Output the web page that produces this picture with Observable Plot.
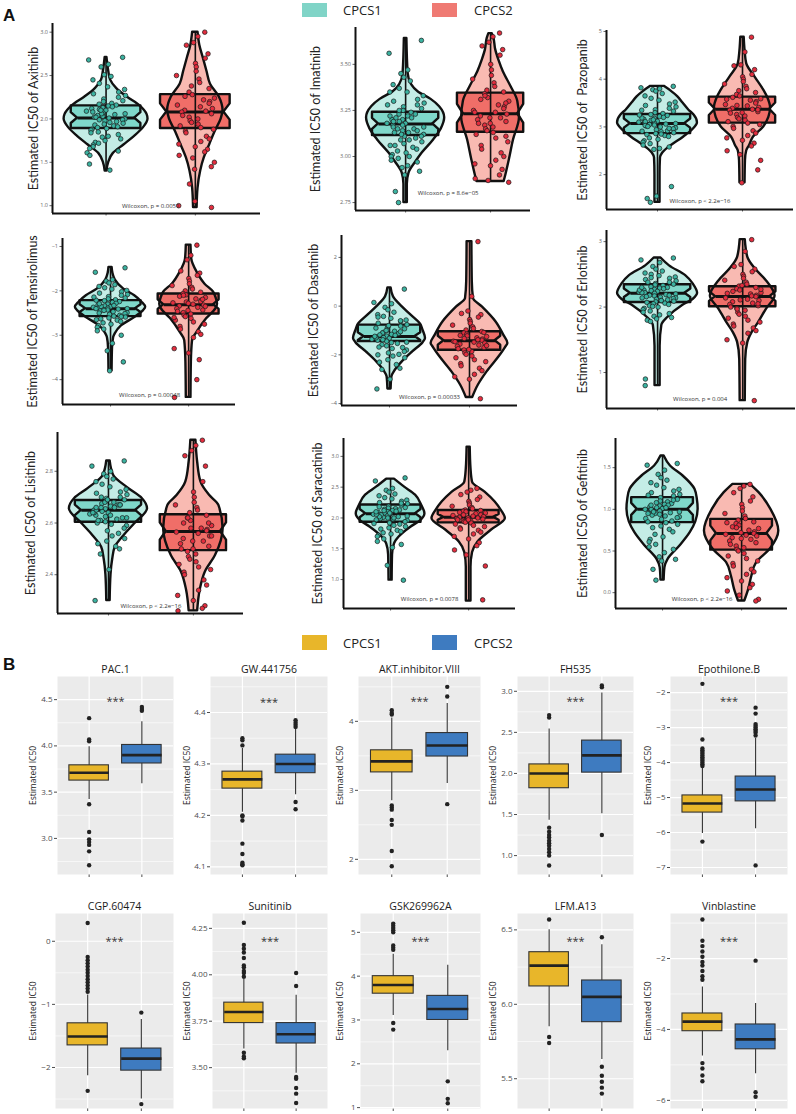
<!DOCTYPE html>
<html><head><meta charset="utf-8">
<script src="https://cdn.jsdelivr.net/npm/d3@7"></script>
<script src="https://cdn.jsdelivr.net/npm/@observablehq/plot@0.6"></script>
<style>
body{margin:0;background:#fff;}
#page{position:relative;width:796px;height:1114px;overflow:hidden;background:#fff;font-family:"Open Sans",Lato,sans-serif;}
.abs{position:absolute;}
.abs svg{overflow:visible;max-width:none;}
</style></head><body><div id="page"></div>
<script>
// ================= DATA =================
const groups = ["CPCS1", "CPCS2"];

// ---- Panel A ----
const drugsA = ["Axitinib","Imatinib","Pazopanib","Temsirolimus","Dasatinib","Erlotinib","Lisitinib","Saracatinib","Gefitinib"];
const yTitlesA = ["Estimated IC50 of Axitinib","Estimated IC50 of Imatinib","Estimated IC50 of  Pazopanib","Estimated IC50 of Temsirolimus","Estimated IC50 of Dasatinib","Estimated IC50 of Erlotinib","Estimated IC50 of Lisitinib","Estimated IC50 of Saracatinib","Estimated IC50 of Gefitinib"];
const pLabelsA = ["Wilcoxon, p = 0.0051","Wilcoxon, p = 8.6e\u221205","Wilcoxon, p < 2.2e\u221216","Wilcoxon, p = 0.00048","Wilcoxon, p = 0.00033","Wilcoxon, p = 0.004","Wilcoxon, p < 2.2e\u221216","Wilcoxon, p = 0.0078","Wilcoxon, p < 2.2e\u221216"];
const pLabelYA = [1.0, 2.80, 1.44, -4.34, -3.75, 0.6, 2.28, 0.69, -0.08];
const yTicksA = [[1.0,1.5,2.0,2.5,3.0],[2.75,3.0,3.25,3.5],[2,3,4,5],[-4,-3,-2,-1],[-4,-2,0,2],[1,2,3],[2.4,2.6,2.8],[1.0,1.5,2.0,2.5,3.0],[0.0,0.5,1.0,1.5]];
const yFormatA = [".1f",".2f","d","d","d","d",".1f",".1f",".1f"];

// box: [q1, median, q3]
const boxA1 = [[1.89,2.01,2.15],[3.114,3.177,3.24],[2.86,3.07,3.26],[-2.58,-2.40,-2.22],[-1.45,-1.25,-0.78],[2.07,2.21,2.34],[2.603,2.649,2.687],[1.93,2.07,2.21],[0.84,1.0,1.14]];
const boxA2 = [[1.89,2.08,2.28],[3.132,3.232,3.344],[3.08,3.37,3.625],[-2.52,-2.31,-2.07],[-1.81,-1.42,-1.05],[2.005,2.16,2.31],[2.493,2.567,2.632],[1.92,2.01,2.12],[0.51,0.71,0.88]];

// violin profile: [value, half-width (fraction of group spacing)]
const violinA1 = [
 [[1.40,0.01],[1.50,0.03],[1.60,0.08],[1.70,0.2],[1.80,0.32],[1.90,0.42],[2.00,0.47],[2.05,0.46],[2.15,0.38],[2.25,0.24],[2.35,0.12],[2.45,0.05],[2.55,0.03],[2.71,0.01]],
 [[2.75,0.02],[2.85,0.02],[2.91,0.04],[2.97,0.12],[3.01,0.18],[3.09,0.33],[3.15,0.42],[3.21,0.46],[3.27,0.4],[3.31,0.3],[3.35,0.15],[3.39,0.07],[3.45,0.03],[3.64,0.015]],
 [[1.42,0.03],[2.0,0.03],[2.35,0.035],[2.45,0.06],[2.58,0.14],[2.79,0.31],[2.95,0.42],[3.09,0.47],[3.25,0.43],[3.35,0.37],[3.5,0.3],[3.63,0.24],[3.75,0.16],[3.85,0.08]],
 [[-3.8,0.02],[-3.3,0.025],[-3.05,0.04],[-2.97,0.06],[-2.79,0.14],[-2.6,0.31],[-2.45,0.42],[-2.37,0.45],[-2.25,0.4],[-2.11,0.31],[-1.96,0.17],[-1.75,0.06],[-1.6,0.03],[-1.47,0.02]],
 [[-3.4,0.02],[-2.9,0.03],[-2.7,0.06],[-2.29,0.16],[-1.88,0.29],[-1.5,0.42],[-1.33,0.45],[-1.0,0.42],[-0.75,0.39],[-0.37,0.27],[-0.03,0.16],[0.38,0.05],[0.75,0.02]],
 [[0.8,0.03],[1.4,0.03],[1.72,0.05],[1.84,0.12],[2.02,0.29],[2.12,0.42],[2.21,0.47],[2.35,0.42],[2.48,0.33],[2.63,0.14],[2.75,0.04]],
 [[2.30,0.02],[2.4,0.03],[2.46,0.05],[2.506,0.08],[2.55,0.18],[2.597,0.31],[2.655,0.46],[2.694,0.4],[2.733,0.24],[2.785,0.06],[2.84,0.02]],
 [[0.99,0.02],[1.4,0.025],[1.58,0.05],[1.69,0.11],[1.85,0.26],[1.95,0.38],[2.07,0.44],[2.2,0.4],[2.37,0.32],[2.5,0.18],[2.63,0.05]],
 [[0.15,0.02],[0.3,0.03],[0.4,0.07],[0.56,0.22],[0.72,0.35],[0.85,0.42],[1.0,0.45],[1.12,0.44],[1.24,0.41],[1.4,0.26],[1.52,0.1],[1.64,0.02]]
];
const violinA2 = [
 [[0.98,0.02],[1.2,0.03],[1.4,0.06],[1.55,0.1],[1.7,0.16],[1.85,0.22],[2.0,0.29],[2.1,0.31],[2.25,0.27],[2.4,0.17],[2.55,0.13],[2.7,0.09],[2.85,0.05],[3.0,0.03]],
 [[2.864,0.16],[2.9,0.18],[2.98,0.22],[3.09,0.27],[3.21,0.34],[3.3,0.32],[3.38,0.24],[3.46,0.15],[3.52,0.1],[3.58,0.06],[3.64,0.04],[3.667,0.02]],
 [[1.83,0.03],[2.3,0.035],[2.5,0.05],[2.6,0.08],[2.79,0.13],[3.0,0.25],[3.2,0.31],[3.4,0.33],[3.6,0.3],[3.77,0.25],[4.04,0.15],[4.32,0.05],[4.6,0.03],[4.88,0.02]],
 [[-4.4,0.03],[-3.6,0.035],[-3.12,0.05],[-2.93,0.11],[-2.63,0.23],[-2.4,0.35],[-2.3,0.37],[-2.15,0.35],[-2.03,0.32],[-1.85,0.21],[-1.585,0.11],[-1.285,0.04],[-0.97,0.03]],
 [[-3.75,0.04],[-3.25,0.11],[-2.7,0.22],[-2.08,0.37],[-1.7,0.45],[-1.53,0.48],[-1.2,0.43],[-0.64,0.33],[-0.03,0.16],[0.31,0.05],[1.0,0.035],[2.65,0.03]],
 [[0.57,0.03],[1.2,0.035],[1.46,0.06],[1.61,0.11],[1.77,0.19],[1.97,0.28],[2.17,0.38],[2.4,0.28],[2.58,0.15],[2.76,0.06],[3.03,0.03]],
 [[2.26,0.05],[2.34,0.08],[2.41,0.14],[2.474,0.26],[2.577,0.35],[2.668,0.3],[2.707,0.19],[2.758,0.09],[2.836,0.05],[2.92,0.03]],
 [[0.65,0.03],[1.2,0.03],[1.44,0.05],[1.61,0.12],[1.8,0.29],[1.99,0.47],[2.12,0.42],[2.26,0.34],[2.42,0.21],[2.58,0.05],[2.8,0.03],[3.15,0.02]],
 [[-0.1,0.04],[0.04,0.09],[0.2,0.13],[0.36,0.19],[0.52,0.36],[0.74,0.47],[1.0,0.37],[1.2,0.22],[1.3,0.11]]
];

// individual points
const pointsA1 = [
 [2.71,2.68,2.63,2.60,2.51,2.49,2.45,2.41,2.37,2.34,2.31,2.29,2.27,2.25,2.23,2.21,2.20,2.18,2.17,2.16,2.15,2.14,2.13,2.12,2.11,2.10,2.09,2.08,2.07,2.06,2.05,2.04,2.03,2.02,2.01,2.00,1.99,1.98,1.97,1.96,1.95,1.94,1.93,1.92,1.91,1.90,1.89,1.88,1.87,1.85,1.84,1.82,1.80,1.79,1.77,1.75,1.73,1.72,1.70,1.68,1.66,1.63,1.61,1.58,1.48,1.41,2.02,2.06,1.99,2.10],
 [3.63,3.56,3.47,3.45,3.43,3.41,3.39,3.37,3.35,3.33,3.31,3.30,3.29,3.28,3.27,3.26,3.25,3.24,3.23,3.23,3.22,3.21,3.20,3.20,3.19,3.18,3.18,3.17,3.17,3.16,3.15,3.15,3.14,3.13,3.13,3.12,3.11,3.11,3.10,3.09,3.08,3.07,3.06,3.05,3.04,3.03,3.02,3.01,3.00,2.99,2.98,2.97,2.95,2.94,2.92,2.90,2.81,2.75,3.19,3.16,3.22,3.14,3.28,3.06,3.35,3.00,3.21,3.12,3.25,3.09],
 [3.85,3.82,3.80,3.78,3.75,3.70,3.65,3.60,3.56,3.52,3.48,3.45,3.42,3.39,3.36,3.33,3.30,3.28,3.26,3.24,3.22,3.20,3.18,3.16,3.14,3.12,3.10,3.09,3.08,3.07,3.06,3.05,3.04,3.02,3.00,2.98,2.96,2.94,2.92,2.90,2.88,2.86,2.84,2.82,2.80,2.77,2.74,2.71,2.68,2.65,2.62,2.58,2.55,2.53,1.75,1.55,1.50,1.42,3.11,3.03,3.19,2.97,3.25,2.91,3.35,2.85,3.01,3.15],
 [-1.48,-1.58,-1.75,-1.78,-1.82,-1.86,-1.90,-1.93,-1.96,-1.99,-2.02,-2.05,-2.08,-2.10,-2.13,-2.16,-2.18,-2.20,-2.22,-2.24,-2.26,-2.28,-2.30,-2.32,-2.34,-2.36,-2.37,-2.38,-2.39,-2.40,-2.41,-2.42,-2.43,-2.45,-2.47,-2.49,-2.51,-2.53,-2.55,-2.57,-2.59,-2.61,-2.63,-2.66,-2.69,-2.72,-2.75,-2.78,-2.82,-2.86,-2.90,-3.00,-3.18,-3.35,-3.60,-3.80,-2.35,-2.44,-2.29,-2.50,-2.21,-2.58,-2.14,-2.65,-2.40,-2.33],
 [0.70,0.15,0.10,-0.05,-0.15,-0.25,-0.35,-0.42,-0.50,-0.57,-0.63,-0.70,-0.76,-0.82,-0.88,-0.93,-0.98,-1.03,-1.08,-1.12,-1.16,-1.20,-1.23,-1.26,-1.29,-1.32,-1.36,-1.40,-1.44,-1.48,-1.53,-1.58,-1.63,-1.68,-1.74,-1.80,-1.86,-1.92,-1.98,-2.05,-2.12,-2.20,-2.30,-2.40,-2.55,-2.60,-3.00,-3.40,-0.90,-1.10,-1.30,-0.60,-1.50,-1.00,-1.70,-0.80,-1.18,-1.38,-0.45,-2.00,-1.24,-1.05],
 [2.75,2.72,2.68,2.62,2.58,2.55,2.52,2.50,2.48,2.46,2.44,2.42,2.40,2.38,2.36,2.35,2.34,2.33,2.31,2.30,2.29,2.28,2.27,2.26,2.25,2.24,2.23,2.22,2.21,2.20,2.19,2.18,2.17,2.16,2.15,2.14,2.13,2.12,2.11,2.10,2.09,2.08,2.07,2.06,2.04,2.02,2.00,1.98,1.96,1.94,1.92,1.90,1.88,1.86,1.84,1.82,1.80,1.78,0.90,0.80,2.22,2.18,2.26,2.14,2.30,2.10,2.38,2.05,2.45,2.01],
 [2.84,2.82,2.80,2.79,2.78,2.77,2.76,2.75,2.74,2.73,2.72,2.715,2.71,2.70,2.695,2.69,2.685,2.68,2.675,2.67,2.665,2.66,2.655,2.65,2.645,2.64,2.635,2.63,2.625,2.62,2.615,2.61,2.605,2.60,2.595,2.59,2.58,2.57,2.56,2.55,2.54,2.53,2.52,2.51,2.50,2.48,2.42,2.30,2.65,2.66,2.64,2.67,2.63,2.68,2.62,2.69,2.61,2.70,2.65,2.66,2.64,2.67],
 [2.65,2.60,2.48,2.45,2.42,2.39,2.36,2.33,2.31,2.29,2.27,2.25,2.23,2.21,2.19,2.17,2.16,2.15,2.14,2.13,2.12,2.11,2.10,2.09,2.08,2.07,2.06,2.05,2.04,2.03,2.02,2.01,2.00,1.99,1.98,1.96,1.94,1.92,1.90,1.88,1.86,1.84,1.82,1.80,1.78,1.76,1.74,1.72,1.70,1.66,1.62,1.57,1.52,1.23,0.99,2.08,2.05,2.12,2.02,2.18,1.97,2.24,1.91,2.06,2.10,2.00],
 [1.55,1.53,1.47,1.42,1.38,1.35,1.32,1.29,1.26,1.24,1.22,1.20,1.18,1.16,1.14,1.12,1.10,1.09,1.08,1.07,1.06,1.05,1.04,1.03,1.02,1.01,1.00,0.99,0.98,0.97,0.96,0.95,0.94,0.93,0.92,0.91,0.90,0.88,0.86,0.84,0.82,0.80,0.78,0.76,0.73,0.70,0.67,0.64,0.61,0.58,0.55,0.52,0.48,0.43,0.40,0.38,0.28,0.15,1.00,1.05,0.95,1.11,0.89,1.17,0.85,1.02,0.97]
];
const pointsA2 = [
 [3.00,2.95,2.88,2.85,2.75,2.70,2.64,2.60,2.55,2.50,2.46,2.42,2.38,2.35,2.31,2.28,2.26,2.24,2.22,2.20,2.18,2.16,2.14,2.12,2.10,2.09,2.08,2.06,2.04,2.02,2.00,1.98,1.96,1.94,1.92,1.90,1.88,1.86,1.84,1.80,1.77,1.74,1.71,1.68,1.65,1.62,1.58,1.55,1.50,1.45,1.42,1.25,1.05,1.00,0.98],
 [3.67,3.65,3.62,3.60,3.58,3.55,3.50,3.47,3.44,3.42,3.40,3.38,3.36,3.35,3.34,3.32,3.31,3.30,3.28,3.27,3.26,3.25,3.24,3.23,3.22,3.21,3.20,3.19,3.18,3.17,3.16,3.15,3.14,3.13,3.12,3.10,3.08,3.06,3.04,3.02,3.00,2.98,2.96,2.95,2.93,2.90,2.88,2.87,2.86,3.29,3.21,3.33,3.18,3.24,3.11],
 [4.88,4.57,4.30,4.28,4.20,4.10,4.05,4.00,3.95,3.90,3.85,3.80,3.76,3.72,3.68,3.65,3.62,3.59,3.56,3.53,3.50,3.47,3.44,3.41,3.39,3.37,3.35,3.32,3.29,3.26,3.23,3.20,3.17,3.14,3.11,3.08,3.05,3.01,2.97,2.92,2.87,2.82,2.77,2.72,2.66,2.60,2.50,2.42,2.30,2.10,1.83,3.45,3.30,3.58,3.36],
 [-0.97,-1.20,-1.30,-1.55,-1.60,-1.65,-1.72,-1.78,-1.84,-1.88,-1.92,-1.96,-2.00,-2.03,-2.06,-2.09,-2.12,-2.15,-2.18,-2.21,-2.24,-2.27,-2.30,-2.32,-2.34,-2.37,-2.40,-2.43,-2.46,-2.49,-2.52,-2.55,-2.58,-2.62,-2.66,-2.70,-2.75,-2.80,-2.86,-2.92,-2.98,-3.05,-3.30,-3.40,-3.55,-4.00,-4.40,-2.25,-2.35,-2.19,-2.44,-2.10,-2.28,-2.60],
 [2.65,0.40,-0.20,-0.30,-0.35,-0.45,-0.55,-0.63,-0.70,-0.78,-0.85,-0.92,-0.98,-1.04,-1.10,-1.15,-1.20,-1.25,-1.30,-1.35,-1.40,-1.44,-1.48,-1.52,-1.56,-1.60,-1.65,-1.70,-1.75,-1.80,-1.86,-1.92,-1.98,-2.05,-2.12,-2.20,-2.28,-2.36,-2.45,-2.55,-2.65,-2.80,-2.90,-3.00,-3.80,-1.38,-1.46,-1.22,-1.62,-1.08,-1.78,-1.33],
 [3.03,2.85,2.65,2.62,2.58,2.54,2.50,2.47,2.44,2.41,2.38,2.35,2.32,2.30,2.28,2.26,2.24,2.22,2.20,2.18,2.16,2.14,2.12,2.10,2.08,2.06,2.04,2.02,2.00,1.98,1.95,1.92,1.89,1.86,1.83,1.80,1.77,1.74,1.71,1.68,1.64,1.60,1.50,1.45,0.57,2.17,2.21,2.11,2.27,2.05,2.33,1.97],
 [2.92,2.90,2.88,2.86,2.82,2.76,2.72,2.70,2.68,2.67,2.66,2.65,2.64,2.63,2.62,2.61,2.60,2.59,2.58,2.575,2.57,2.565,2.56,2.55,2.54,2.53,2.52,2.51,2.50,2.49,2.48,2.47,2.46,2.45,2.44,2.43,2.42,2.41,2.40,2.38,2.36,2.34,2.32,2.30,2.28,2.27,2.26,2.58,2.55,2.60,2.53,2.62,2.50],
 [2.48,2.45,2.42,2.38,2.34,2.30,2.27,2.24,2.21,2.19,2.17,2.15,2.13,2.12,2.11,2.10,2.09,2.08,2.07,2.06,2.05,2.04,2.03,2.02,2.01,2.00,1.99,1.98,1.97,1.96,1.95,1.94,1.93,1.92,1.90,1.88,1.86,1.84,1.82,1.80,1.77,1.74,1.70,1.66,1.60,1.55,1.48,1.40,1.22,0.67,2.00,2.05,1.97],
 [1.30,1.28,1.25,1.20,1.15,1.10,1.06,1.02,0.98,0.95,0.92,0.89,0.87,0.85,0.83,0.81,0.79,0.77,0.75,0.73,0.71,0.70,0.69,0.68,0.66,0.64,0.62,0.60,0.58,0.56,0.54,0.52,0.50,0.47,0.44,0.41,0.38,0.35,0.32,0.28,0.25,0.22,0.18,0.14,0.10,0.06,0.02,-0.03,-0.08,-0.10,0.72,0.78,0.65,0.84]
];

// ---- Panel B ----
const drugsB = ["PAC.1","GW.441756","AKT.inhibitor.VIII","FH535","Epothilone.B","CGP.60474","Sunitinib","GSK269962A","LFM.A13","Vinblastine"];
const yTicksB = [[3.0,3.5,4.0,4.5],[4.1,4.2,4.3,4.4],[2,3,4],[1.0,1.5,2.0,2.5,3.0],[-7,-6,-5,-4,-3,-2],[-2,-1,0],[3.50,3.75,4.00,4.25],[1,2,3,4,5],[5.5,6.0,6.5],[-6,-4,-2]];
const yFormatB = [".1f",".1f","d",".1f","d","d",".2f","d",".1f","d"];
// stats: [lower whisker, q1, median, q3, upper whisker]
const statsB1 = [[3.42,3.625,3.71,3.79,3.99],[4.206,4.252,4.27,4.285,4.33],[2.85,3.26,3.42,3.58,4.05],[1.43,1.82,2.0,2.11,2.54],[-6.03,-5.43,-5.17,-4.94,-4.15],[-2.13,-1.65,-1.51,-1.30,-0.85],[3.60,3.74,3.80,3.85,3.98],[3.1,3.6,3.8,4.0,4.5],[5.85,6.12,6.26,6.35,6.5],[-4.75,-4.05,-3.78,-3.55,-2.8]];
const statsB2 = [[3.59,3.81,3.90,4.01,4.26],[4.24,4.282,4.30,4.318,4.37],[3.10,3.49,3.65,3.83,4.26],[1.51,2.01,2.22,2.40,2.98],[-5.89,-5.11,-4.77,-4.40,-3.31],[-2.50,-2.05,-1.86,-1.70,-1.24],[3.47,3.63,3.68,3.74,3.89],[2.3,3.0,3.25,3.55,4.25],[5.63,5.88,6.05,6.16,6.4],[-5.25,-4.56,-4.28,-3.86,-3.27]];
const outliersB1 = [[4.05,4.07,4.30,3.37,3.07,2.99,2.96,2.93,2.86,2.71],[4.336,4.346,4.35,4.20,4.198,4.19,4.145,4.125,4.108,4.105,4.103],[4.10,4.12,4.16,2.78,2.75,2.72,2.57,2.50,2.12,1.90],[2.68,2.71,1.34,1.29,1.25,1.22,1.18,1.15,1.12,1.08,1.04,1.00,0.88],[-1.75,-3.34,-3.6,-3.65,-3.7,-3.75,-3.8,-3.85,-3.9,-3.95,-4.0,-4.05,-4.1,-6.26],[0.29,-0.25,-0.3,-0.35,-0.4,-0.45,-0.5,-0.55,-0.6,-0.65,-0.7,-0.75,-0.8,-2.37],[3.99,4.01,4.02,4.04,4.05,4.09,4.12,4.14,4.16,4.28,3.58,3.55,3.56],[4.6,4.65,4.7,5.0,5.05,5.1,5.15,5.2,2.93,2.78],[6.57,5.78,5.74],[-0.9,-1.5,-1.65,-1.8,-1.95,-2.1,-2.2,-2.35,-2.5,-2.6,-4.95,-5.1,-5.3,-5.46]];
const outliersB2 = [[4.38,4.40,4.42],[4.372,4.376,4.38,4.385,4.226,4.212],[4.36,4.50,2.80],[3.05,3.07,1.25],[-2.43,-2.6,-2.9,-2.95,-3.0,-3.05,-3.1,-3.15,-3.23,-6.94],[-1.13,-2.58],[3.94,4.01,3.45,3.44,3.39,3.36,3.31],[1.6,1.2,1.1],[6.45,5.58,5.52,5.48,5.44,5.40],[-2.06,-5.77,-5.9]];
const starYB = [4.48,4.42,4.29,2.88,-2.26,0.0,4.18,4.8,6.42,-1.52];

// ================= STYLE / LAYOUT =================
const violinFill = ["#c4ede6","#f9bab2"];
const boxFillA = ["#7fd8ca","#f06e68"];
const pointFill = ["#3bb3a1","#e32d3e"];
const legendA = ["#80d4c7","#ef7a73"];
const colorsB = ["#e8b62a","#3e7bc0"];

const frameA = [
 {L:52,T:23,R:260,B:213,y:[0.91,3.10],x:[0.4,2.73],tdx:-19},
 {L:355,T:27,R:530,B:210,y:[2.707,3.70],x:[0.41,2.47],tdx:-40},
 {L:606,T:30,R:793,B:209,y:[1.27,5.02],x:[0.4,2.6],tdx:-24},
 {L:62,T:238,R:235,B:404,y:[-4.56,-0.82],x:[0.385,2.6],tdx:-30},
 {L:341,T:235,R:517,B:405,y:[-4.08,2.9],x:[0.4,2.6],tdx:-28},
 {L:606,T:230,R:795,B:408,y:[0.45,3.17],x:[0.4,2.62],tdx:-24},
 {L:57,T:432,R:243,B:613,y:[2.25,2.95],x:[0.4,2.59],tdx:-27},
 {L:343,T:438,R:515,B:608,y:[0.53,3.29],x:[0.397,2.6],tdx:-26},
 {L:615,T:438,R:787,B:608,y:[-0.19,1.85],x:[0.405,2.58],tdx:-33}
];
const frameB = [
 {L:57,R:173,T:676,B:874,y:[2.61,4.75],tdx:-24},
 {L:210,R:327,T:676,B:874,y:[4.085,4.47],tdx:-23},
 {L:358,R:480,T:676,B:874,y:[1.78,4.65],tdx:-18},
 {L:517,R:633,T:676,B:874,y:[0.77,3.18],tdx:-24},
 {L:670,R:787,T:676,B:874,y:[-7.2,-1.54],tdx:-22},
 {L:55,R:173,T:913,B:1108,y:[-2.65,0.44],tdx:-22},
 {L:212,R:327,T:913,B:1108,y:[3.28,4.33],tdx:-25},
 {L:360,R:480,T:913,B:1108,y:[0.98,5.43],tdx:-20},
 {L:517,R:633,T:913,B:1108,y:[5.30,6.61],tdx:-24},
 {L:670,R:787,T:913,B:1108,y:[-6.23,-0.73],tdx:-22}
];

const page = document.getElementById("page");
function place(el, left, top) {
  const d = document.createElement("div");
  d.className = "abs"; d.style.left = left + "px"; d.style.top = top + "px";
  d.appendChild(el); page.appendChild(d); return d;
}
function htmlText(txt, left, top, css) {
  const d = document.createElement("div");
  d.className = "abs"; d.textContent = txt;
  d.style.left = left + "px"; d.style.top = top + "px";
  Object.assign(d.style, css || {});
  page.appendChild(d); return d;
}
function jit(i, g) { const s = Math.sin((i + 1) * 12.9898 + g * 78.233) * 43758.5453; return (s - Math.floor(s)) - 0.5; }

// ---- Panel A plots ----
function drawA(i) {
  const f = frameA[i];
  const mL = 50, mT = 4, mR = 4, mB = 10;
  const W = f.R - f.L + mL + mR, H = f.B - f.T + mT + mB;
  const prof = [violinA1[i], violinA2[i]], box = [boxA1[i], boxA2[i]], pts = [pointsA1[i], pointsA2[i]];
  const marks = [];
  for (let g = 0; g < 2; g++) {
    const c = g + 1;
    const v = prof[g].map(([y, w]) => ({y, x1: c - w, x2: c + w}));
    marks.push(Plot.areaX(v, {y: "y", x1: "x1", x2: "x2", curve: "monotone-y", fill: violinFill[g]}));
  }
  for (let g = 0; g < 2; g++) {
    const c = g + 1, [q1, med, q3] = box[g];
    const n = 0.24 * (q3 - q1), hw = 0.39, nw = 0.82 * hw;
    const bp = [[q1, hw], [med - n, hw], [med, nw], [med + n, hw], [q3, hw]].map(([y, w]) => ({y, x1: c - w, x2: c + w}));
    marks.push(Plot.areaX(bp, {y: "y", x1: "x1", x2: "x2", fill: boxFillA[g], stroke: "#111", strokeWidth: 2.4, strokeLinejoin: "round"}));
  }
  for (let g = 0; g < 2; g++) {
    const c = g + 1;
    const v = prof[g].map(([y, w]) => ({y, x1: c - w, x2: c + w}));
    marks.push(Plot.areaX(v, {y: "y", x1: "x1", x2: "x2", curve: "monotone-y", fill: "none", stroke: "#111", strokeWidth: 2.4, strokeLinejoin: "round"}));
    const ys = prof[g].map(d => d[0]);
    marks.push(Plot.ruleX([c], {y1: d3.min(ys), y2: d3.max(ys), stroke: "#111", strokeWidth: 1.6}));
  }
  for (let g = 0; g < 2; g++) {
    const c = g + 1, med = box[g][1], nw = 0.82 * 0.39;
    marks.push(Plot.link([0], {x1: c - nw, x2: c + nw, y1: med, y2: med, stroke: "#111", strokeWidth: 3}));
  }
  for (let g = 0; g < 2; g++) {
    const c = g + 1;
    const data = pts[g].map((y, k) => ({y, x: c + jit(k, g) * 0.44}));
    marks.push(Plot.dot(data, {x: "x", y: "y", r: 2.3, fill: pointFill[g], stroke: "#1a1a1a", strokeWidth: 0.7}));
  }
  marks.push(Plot.ruleX([f.x[0]], {stroke: "#111", strokeWidth: 2}));
  marks.push(Plot.ruleY([f.y[0]], {stroke: "#111", strokeWidth: 2}));
  marks.push(Plot.text([pLabelsA[i]], {x: 1.5, y: pLabelYA[i], fontSize: 6, fill: "#333"}));
  marks.push(Plot.text([yTitlesA[i]], {frameAnchor: "left", textAnchor: "middle", rotate: -90, dx: f.tdx, fontSize: 12.5, fill: "#222", fontFamily: "Lato"}));
  const svg = Plot.plot({
    width: W, height: H, marginLeft: mL, marginTop: mT, marginRight: mR, marginBottom: mB,
    x: {domain: f.x, ticks: [1, 2], tickFormat: () => "", tickSize: 2.5, label: null},
    y: {domain: f.y, ticks: yTicksA[i], tickFormat: d3.format(yFormatA[i]), tickSize: 2.5, tickPadding: 2, label: null},
    style: {fontSize: "5.5px", color: "#666", background: "transparent", overflow: "visible", fontFamily: "Open Sans"},
    marks
  });
  place(svg, f.L - mL, f.T - mT);
}

// ---- Panel B plots ----
function drawB(i) {
  const f = frameB[i];
  const mL = 52, mT = 20, mR = 4, mB = 8;
  const W = f.R - f.L + mL + mR, H = f.B - f.T + mT + mB;
  const ticks = yTicksB[i];
  const step = ticks[1] - ticks[0];
  const minor = [];
  for (let k = -1; k < ticks.length; k++) {
    const m = ticks[0] + (k + 0.5) * step;
    if (m > f.y[0] && m < f.y[1]) minor.push(m);
  }
  const stats = [statsB1[i], statsB2[i]], outs = [outliersB1[i], outliersB2[i]];
  const marks = [
    Plot.frame({fill: "#ebebeb", stroke: null}),
    Plot.ruleY(minor, {stroke: "#fff", strokeWidth: 0.6}),
    Plot.ruleY(ticks, {stroke: "#fff", strokeWidth: 1.2}),
    Plot.ruleX([1, 2], {stroke: "#fff", strokeWidth: 1.2})
  ];
  for (let g = 0; g < 2; g++) {
    const c = g + 1, [lo, q1, med, q3, hi] = stats[g];
    marks.push(Plot.ruleX([c], {y1: lo, y2: hi, stroke: "#333", strokeWidth: 1.1}));
    marks.push(Plot.rect([0], {x1: c - 0.375, x2: c + 0.375, y1: q1, y2: q3, fill: colorsB[g], stroke: "#333", strokeWidth: 1.1}));
    marks.push(Plot.link([0], {x1: c - 0.375, x2: c + 0.375, y1: med, y2: med, stroke: "#222", strokeWidth: 2.6}));
    marks.push(Plot.dot(outs[g], {x: c, y: d => d, r: 2.2, fill: "#222", stroke: null}));
  }
  marks.push(Plot.text(["***"], {x: 1.5, y: starYB[i], fontSize: 11, fill: "#333"}));
  marks.push(Plot.text([drugsB[i]], {frameAnchor: "top", dy: -11, fontSize: 10.5, fill: "#1a1a1a"}));
  marks.push(Plot.text(["Estimated IC50"], {frameAnchor: "left", textAnchor: "middle", rotate: -90, dx: f.tdx, fontSize: 8.5, fill: "#1a1a1a"}));
  const svg = Plot.plot({
    width: W, height: H, marginLeft: mL, marginTop: mT, marginRight: mR, marginBottom: mB,
    x: {domain: [0.4, 2.6], ticks: [1, 2], tickFormat: () => "", tickSize: 3, label: null},
    y: {domain: f.y, ticks, tickFormat: d3.format(yFormatB[i]), tickSize: 3, tickPadding: 2, label: null},
    style: {fontSize: "8px", color: "#4d4d4d", background: "transparent", overflow: "visible", fontFamily: "Open Sans"},
    marks
  });
  place(svg, f.L - mL, f.T - mT);
}

for (let i = 0; i < drugsA.length; i++) drawA(i);
for (let i = 0; i < drugsB.length; i++) drawB(i);

htmlText("A", 3, 6, {fontSize: "17px", fontWeight: "bold", fontFamily: "Liberation Sans, Arial, sans-serif", color: "#111"});
htmlText("B", 3, 655, {fontSize: "17px", fontWeight: "bold", fontFamily: "Liberation Sans, Arial, sans-serif", color: "#111"});
function legend(top, h, cols) {
  const xs = [302, 432], tx = [343, 474];
  for (let g = 0; g < 2; g++) {
    const r = document.createElement("div");
    r.className = "abs";
    Object.assign(r.style, {left: xs[g] + "px", top: top + "px", width: "25px", height: h + "px", background: cols[g]});
    page.appendChild(r);
    htmlText(groups[g], tx[g], top + h / 2 - 9, {fontSize: "13px", lineHeight: "18px", color: "#222", fontFamily: "Open Sans"});
  }
}
legend(3, 14, legendA);
legend(635, 15, colorsB);
</script></body></html>
